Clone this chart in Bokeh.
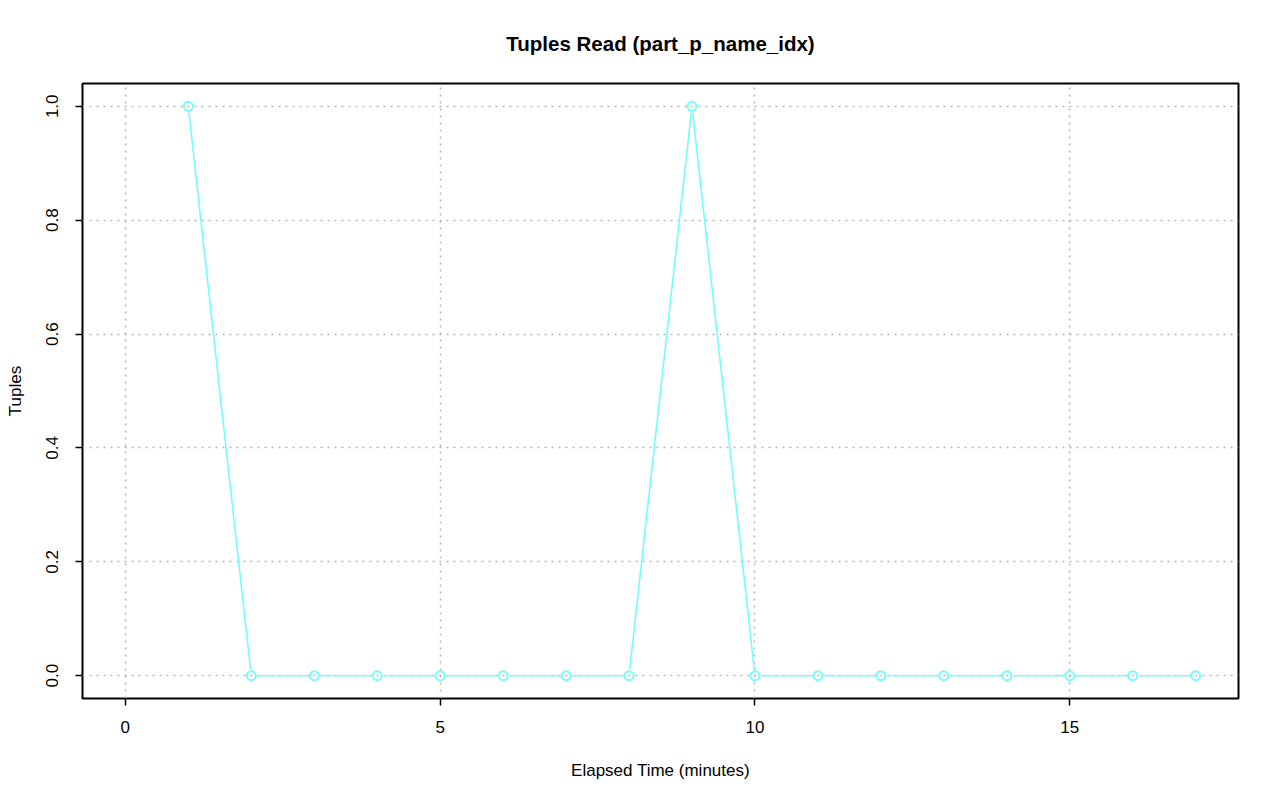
import numpy as np
from bokeh.plotting import figure
from bokeh.models import FixedTicker, Range1d
from bokeh.embed import file_html
from bokeh.resources import INLINE

# Data
elapsed_minutes = [1, 2, 3, 4, 5, 6, 7, 8, 9, 10, 11, 12, 13, 14, 15, 16, 17]
tuples_read = [1, 0, 0, 0, 0, 0, 0, 0, 1, 0, 0, 0, 0, 0, 0, 0, 0]
x_ticks = [0, 5, 10, 15]
y_ticks = [0.0, 0.2, 0.4, 0.6, 0.8, 1.0]
y_tick_labels = ["0.0", "0.2", "0.4", "0.6", "0.8", "1.0"]

W, H = 1272, 793
BL, BR, BT, BB = 82, 34, 82, 95
FW, FH = W - BL - BR, H - BT - BB
x0, x1 = -0.68, 17.68
y0, y1 = -0.04, 1.04
FONT = "Liberation Sans"
COLOR = "#70ffff"

p = figure(width=W, height=H, output_backend="svg", toolbar_location=None,
           x_range=Range1d(x0, x1), y_range=Range1d(y0, y1),
           min_border_left=BL, min_border_right=BR, min_border_top=BT, min_border_bottom=BB,
           title="Tuples Read (part_p_name_idx)")

p.title.align = "center"
p.title.text_font = FONT
p.title.text_font_size = "20.5px"
p.title.text_font_style = "bold"
p.title.text_color = "black"
p.title.standoff = 58

p.outline_line_color = "black"
p.outline_line_width = 2
p.outline_line_alpha = 1

for ax in (p.xaxis[0], p.yaxis[0]):
    ax.axis_line_color = None
    ax.major_tick_in = 0
    ax.major_tick_out = 7
    ax.major_tick_line_color = "black"
    ax.major_tick_line_width = 1.5
    ax.minor_tick_line_color = None
    ax.major_label_text_font = FONT
    ax.major_label_text_font_size = "17px"
    ax.major_label_text_color = "black"
    ax.axis_label_text_font = FONT
    ax.axis_label_text_font_size = "17px"
    ax.axis_label_text_font_style = "normal"
    ax.axis_label_text_color = "black"

p.xaxis.ticker = FixedTicker(ticks=x_ticks)
p.yaxis.ticker = FixedTicker(ticks=y_ticks)
p.yaxis.major_label_overrides = {t: s for t, s in zip(y_ticks, y_tick_labels)}
p.yaxis.major_label_orientation = "vertical"
p.xaxis.axis_label = "Elapsed Time (minutes)"
p.yaxis.axis_label = "Tuples"
p.xaxis.major_label_standoff = 15
p.xaxis.axis_label_standoff = 25
p.yaxis.major_label_standoff = 17
p.yaxis.axis_label_standoff = 19

p.grid.grid_line_color = "#b4b4b4"
p.grid.grid_line_dash = "2 5"
p.grid.grid_line_width = 1.5

# type "b" lines: segments stopping short of the points
sx = FW / (x1 - x0)
sy = FH / (y1 - y0)
gap = 6.5
xs0, ys0, xs1, ys1 = [], [], [], []
for i in range(len(elapsed_minutes) - 1):
    ax_, ay_ = elapsed_minutes[i], tuples_read[i]
    bx_, by_ = elapsed_minutes[i + 1], tuples_read[i + 1]
    dxp, dyp = (bx_ - ax_) * sx, (by_ - ay_) * sy
    L = np.hypot(dxp, dyp)
    if L <= 2 * gap:
        continue
    f = gap / L
    xs0.append(ax_ + f * (bx_ - ax_)); ys0.append(ay_ + f * (by_ - ay_))
    xs1.append(bx_ - f * (bx_ - ax_)); ys1.append(by_ - f * (by_ - ay_))
p.segment(xs0, ys0, xs1, ys1, line_color=COLOR, line_width=1.6)

p.scatter(elapsed_minutes, tuples_read, marker="circle", size=9, fill_color=None,
          line_color=COLOR, line_width=2)

open("out.html", "w").write(file_html(p, INLINE))
